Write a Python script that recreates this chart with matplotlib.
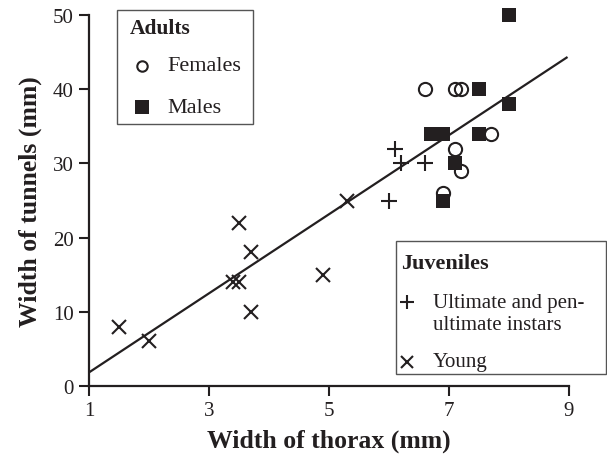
import matplotlib
matplotlib.use("Agg")
import matplotlib.pyplot as plt
from matplotlib.lines import Line2D
from matplotlib.patches import Rectangle

plt.rcParams['font.family'] = ['Liberation Serif', 'DejaVu Serif']

# ---- data ----
young_x = [1.5, 2.0, 3.4, 3.5, 3.5, 3.7, 3.7, 4.9, 5.3]
young_y = [8, 6, 14, 14, 22, 18, 10, 15, 25]
instar_x = [6.0, 6.1, 6.2, 6.6]
instar_y = [25, 32, 30, 30]
female_x = [6.6, 7.1, 7.2, 7.7, 7.1, 7.2, 6.9]
female_y = [40, 40, 40, 34, 32, 29, 26]
male_x = [8.0, 7.5, 8.0, 6.7, 6.9, 7.5, 7.1, 6.9]
male_y = [50, 40, 38, 34, 34, 34, 30, 25]
fit_intercept = -3.5
fit_slope = 5.33
fit_x = [1.0, 8.96]
x_ticks = [1, 3, 5, 7, 9]
y_ticks = [0, 10, 20, 30, 40, 50]

INK = '#231f20'
EDGE = '#555555'

fig = plt.figure(figsize=(6.07, 4.60), dpi=100)
W, H = 607, 460


def fx(x):
    return x / W


def fy(y):
    return 1 - y / H


ax = fig.add_axes([fx(89), fy(387), (569 - 89) / W, (387 - 16) / H])

fit_y = [fit_intercept + fit_slope * v for v in fit_x]
ax.plot(fit_x, fit_y, color=INK, lw=1.6, zorder=2)

ax.plot(young_x, young_y, ls='none', marker='x', ms=10, mew=1.5,
        color=INK, clip_on=False, zorder=3)
ax.plot(instar_x, instar_y, ls='none', marker='+', ms=11, mew=1.5,
        color=INK, clip_on=False, zorder=3)
ax.plot(female_x, female_y, ls='none', marker='o', ms=9.5, mew=1.5,
        mfc='none', mec=INK, clip_on=False, zorder=3)
ax.plot(male_x, male_y, ls='none', marker='s', ms=10, mew=0,
        color=INK, clip_on=False, zorder=4)

ax.set_xlim(1, 9)
ax.set_ylim(0, 50)
ax.set_xticks(x_ticks)
ax.set_yticks(y_ticks)
ax.tick_params(direction='out', length=7, width=1.5, labelsize=15,
               colors=INK, pad=4)
for s in ['top', 'right']:
    ax.spines[s].set_visible(False)
for s in ['left', 'bottom']:
    ax.spines[s].set_linewidth(1.6)
    ax.spines[s].set_color(INK)

ax.set_xlabel('Width of thorax (mm)', fontsize=18.5, fontweight='bold',
              color=INK, labelpad=6)
ax.set_ylabel('Width of tunnels (mm)', fontsize=18.5, fontweight='bold',
              color=INK, labelpad=8)

# ---- legends (drawn in figure pixel positions) ----
T = fig.transFigure


def box(x0, y0, x1, y1):
    fig.add_artist(Rectangle((fx(x0), fy(y1)), (x1 - x0) / W, (y1 - y0) / H,
                             transform=T, facecolor='white', edgecolor=EDGE,
                             lw=1.0, zorder=5))


def mark(x, y, **kw):
    fig.add_artist(Line2D([fx(x)], [fy(y)], transform=T, ls='none',
                          zorder=6, **kw))


def label(x, y, s, **kw):
    fig.text(fx(x), fy(y), s, va='baseline', ha='left', color=INK,
             zorder=6, **kw)


# Adults
box(117, 11, 253, 125)
label(130, 34, 'Adults', fontsize=15.5, fontweight='bold')
mark(142, 67, marker='o', ms=7.5, mew=1.5, mfc='none', mec=INK)
label(167, 71, 'Females', fontsize=16)
mark(142, 108, marker='s', ms=10, mew=0, color=INK)
label(167, 113, 'Males', fontsize=16)

# Juveniles
box(396, 242, 606, 375)
label(401, 269, 'Juveniles', fontsize=16, fontweight='bold')
mark(407, 303, marker='+', ms=10, mew=1.5, color=INK)
label(433, 308, 'Ultimate and pen-', fontsize=15)
label(433, 330, 'ultimate instars', fontsize=15)
mark(407, 363, marker='x', ms=8, mew=1.5, color=INK)
label(433, 367, 'Young', fontsize=15)

fig.savefig('out.png', dpi=100)
